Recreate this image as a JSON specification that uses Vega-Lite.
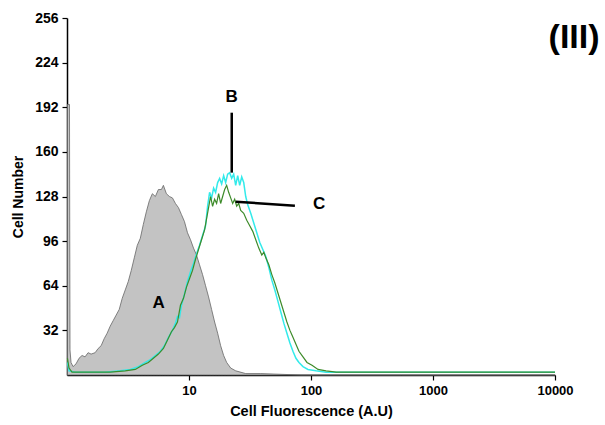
{
  "$schema": "https://vega.github.io/schema/vega-lite/v6.json",
  "width": 488,
  "height": 357,
  "autosize": {"type": "none"},
  "padding": {"left": 67, "top": 18, "right": 50, "bottom": 50},
  "background": "white",
  "config": {
    "view": {"stroke": null},
    "font": "Liberation Sans",
    "axis": {
      "grid": false,
      "domainColor": "#000",
      "tickColor": "#000",
      "labelColor": "#000",
      "titleColor": "#000",
      "labelFont": "Liberation Sans",
      "titleFont": "Liberation Sans",
      "labelFontWeight": "bold",
      "titleFontWeight": "bold",
      "labelFontSize": 13,
      "titleFontSize": 14,
      "domainWidth": 1.5,
      "tickWidth": 1.2,
      "tickSize": 5,
      "labelFlush": false,
      "labelOverlap": false
    }
  },
  "datasets": {
    "A": [
      {"x":1.009,"n":194},{"x":1.048,"n":194},{"x":1.058,"n":18},{"x":1.079,"n":9},{"x":1.121,"n":6},{"x":1.186,"n":8},{"x":1.255,"n":12},{"x":1.329,"n":14},{"x":1.406,"n":13},{"x":1.489,"n":16},{"x":1.576,"n":15},{"x":1.7,"n":16},{"x":1.8,"n":19},{"x":1.905,"n":21},{"x":2.016,"n":26},{"x":2.134,"n":30},{"x":2.259,"n":35},{"x":2.391,"n":39},{"x":2.531,"n":43},{"x":2.679,"n":47},{"x":2.836,"n":55},{"x":3.002,"n":61},{"x":3.177,"n":67},{"x":3.363,"n":75},{"x":3.56,"n":84},{"x":3.768,"n":93},{"x":3.989,"n":98},{"x":4.222,"n":108},{"x":4.469,"n":117},{"x":4.731,"n":125},{"x":5.007,"n":130},{"x":5.3,"n":128},{"x":5.611,"n":133},{"x":5.939,"n":133},{"x":6.168,"n":136},{"x":6.528,"n":130},{"x":6.91,"n":128},{"x":7.315,"n":127},{"x":7.742,"n":123},{"x":8.196,"n":120},{"x":8.675,"n":115},{"x":9.183,"n":110},{"x":9.72,"n":102},{"x":10.29,"n":97},{"x":10.89,"n":91},{"x":11.53,"n":86},{"x":12.2,"n":79},{"x":12.92,"n":72},{"x":13.67,"n":64},{"x":14.47,"n":56},{"x":15.32,"n":47},{"x":16.22,"n":38},{"x":17.17,"n":30},{"x":18.17,"n":21},{"x":19.23,"n":14},{"x":20.36,"n":9},{"x":21.96,"n":5},{"x":24.14,"n":3},{"x":29.17,"n":1},{"x":38.77,"n":1},{"x":82.75,"n":0},{"x":550,"n":0},{"x":10000,"n":0}
    ],
    "B": [
      {"x":1.009,"n":9},{"x":1.039,"n":3},{"x":1.164,"n":2},{"x":1.546,"n":2},{"x":2.055,"n":2},{"x":2.731,"n":3},{"x":3.3,"n":4},{"x":3.841,"n":6},{"x":4.385,"n":9},{"x":4.822,"n":11},{"x":5.3,"n":14},{"x":5.827,"n":17},{"x":6.286,"n":21},{"x":6.782,"n":27},{"x":7.315,"n":32},{"x":7.742,"n":37},{"x":8.042,"n":42},{"x":8.353,"n":41},{"x":8.675,"n":50},{"x":9.183,"n":58},{"x":9.72,"n":67},{"x":10.29,"n":74},{"x":10.89,"n":80},{"x":11.53,"n":87},{"x":12.2,"n":93},{"x":12.92,"n":100},{"x":13.67,"n":107},{"x":14.2,"n":121},{"x":14.75,"n":131},{"x":15.32,"n":127},{"x":15.91,"n":134},{"x":16.52,"n":131},{"x":17.17,"n":138},{"x":17.83,"n":141},{"x":18.52,"n":137},{"x":19.23,"n":143},{"x":19.97,"n":138},{"x":20.74,"n":144},{"x":21.54,"n":145},{"x":22.38,"n":141},{"x":23.24,"n":144},{"x":24.14,"n":136},{"x":25.07,"n":143},{"x":26.04,"n":136},{"x":27.04,"n":142},{"x":28.09,"n":138},{"x":29.17,"n":128},{"x":30.3,"n":122},{"x":32.07,"n":116},{"x":33.95,"n":109},{"x":35.94,"n":102},{"x":38.04,"n":95},{"x":40.27,"n":90},{"x":42.62,"n":85},{"x":45.12,"n":77},{"x":47.75,"n":68},{"x":50.55,"n":61},{"x":53.51,"n":53},{"x":56.64,"n":45},{"x":59.95,"n":37},{"x":63.47,"n":30},{"x":67.18,"n":23},{"x":71.12,"n":17},{"x":75.27,"n":12},{"x":79.68,"n":9},{"x":85.97,"n":6},{"x":94.47,"n":4},{"x":109.9,"n":3},{"x":132.9,"n":2},{"x":213.4,"n":2},{"x":1420,"n":2},{"x":10000,"n":2}
    ],
    "C": [
      {"x":1.009,"n":12},{"x":1.039,"n":5},{"x":1.099,"n":2},{"x":1.546,"n":2},{"x":2.259,"n":2},{"x":3.002,"n":3},{"x":3.628,"n":4},{"x":4.143,"n":7},{"x":4.642,"n":9},{"x":5.104,"n":12},{"x":5.611,"n":15},{"x":6.168,"n":19},{"x":6.653,"n":25},{"x":7.178,"n":31},{"x":7.598,"n":34},{"x":8.042,"n":38},{"x":8.511,"n":50},{"x":9.01,"n":55},{"x":9.537,"n":63},{"x":10.09,"n":69},{"x":10.69,"n":75},{"x":11.31,"n":83},{"x":11.97,"n":90},{"x":12.67,"n":97},{"x":13.42,"n":104},{"x":13.93,"n":112},{"x":14.47,"n":120},{"x":15.03,"n":128},{"x":15.61,"n":121},{"x":16.22,"n":126},{"x":16.84,"n":123},{"x":17.49,"n":130},{"x":18.17,"n":123},{"x":18.87,"n":128},{"x":19.6,"n":133},{"x":20.36,"n":136},{"x":21.14,"n":131},{"x":21.96,"n":127},{"x":22.8,"n":123},{"x":23.68,"n":126},{"x":24.6,"n":121},{"x":25.55,"n":123},{"x":26.54,"n":118},{"x":28.09,"n":116},{"x":29.74,"n":111},{"x":31.47,"n":107},{"x":33.31,"n":103},{"x":35.27,"n":97},{"x":37.33,"n":91},{"x":39.52,"n":86},{"x":41.04,"n":88},{"x":42.62,"n":84},{"x":45.12,"n":79},{"x":47.75,"n":72},{"x":50.55,"n":66},{"x":53.51,"n":59},{"x":56.64,"n":52},{"x":59.95,"n":45},{"x":63.47,"n":38},{"x":67.18,"n":32},{"x":71.12,"n":27},{"x":75.27,"n":22},{"x":79.68,"n":17},{"x":85.97,"n":13},{"x":92.71,"n":9},{"x":101.9,"n":7},{"x":114.2,"n":4},{"x":132.9,"n":3},{"x":160.6,"n":2},{"x":257.9,"n":2},{"x":10000,"n":2}
    ],
    "pointers": [
      {"x":22.4,"y":188.1,"x2":22.4,"y2":145.1},
      {"x":24.1,"y":124.3,"x2":73.8,"y2":121.4}
    ],
    "letters": [
      {"label":"A","x":5.64,"y":51.4},
      {"label":"B","x":22.4,"y":199.1},
      {"label":"C","x":116.4,"y":122.6}
    ],
    "panel": [
      {"label":"(III)","x":14330,"y":241.7}
    ]
  },
  "layer": [
    {
      "data": {"name": "A"},
      "mark": {"type": "area", "color": "#c3c3c3", "stroke": "#666666", "strokeWidth": 0.8, "interpolate": "linear"},
      "encoding": {
        "x": {"field": "x", "type": "quantitative", "scale": {"type": "log", "domain": [1, 10000], "nice": false},
              "axis": {"values": [10, 100, 1000, 10000], "format": "d", "title": "Cell Fluorescence (A.U)", "labelPadding": 4, "titlePadding": 7, "titleFontSize": 14.5}},
        "y": {"field": "n", "type": "quantitative", "scale": {"domain": [0, 256], "nice": false},
              "axis": {"values": [32, 64, 96, 128, 160, 192, 224, 256], "title": "Cell Number", "labelPadding": 4, "labelFontSize": 14, "titlePadding": 9}}
      }
    },
    {
      "data": {"name": "B"},
      "mark": {"type": "line", "color": "#33eaea", "strokeWidth": 1.5},
      "encoding": {
        "x": {"field": "x", "type": "quantitative", "scale": {"type": "log", "domain": [1, 10000], "nice": false}},
        "y": {"field": "n", "type": "quantitative", "scale": {"domain": [0, 256], "nice": false}}
      }
    },
    {
      "data": {"name": "C"},
      "mark": {"type": "line", "color": "#3d8b2a", "strokeWidth": 1.2},
      "encoding": {
        "x": {"field": "x", "type": "quantitative", "scale": {"type": "log", "domain": [1, 10000], "nice": false}},
        "y": {"field": "n", "type": "quantitative", "scale": {"domain": [0, 256], "nice": false}}
      }
    },
    {
      "data": {"name": "pointers"},
      "mark": {"type": "rule", "color": "#000", "strokeWidth": 2.5},
      "encoding": {
        "x": {"field": "x", "type": "quantitative", "scale": {"type": "log", "domain": [1, 10000], "nice": false}},
        "x2": {"field": "x2"},
        "y": {"field": "y", "type": "quantitative", "scale": {"domain": [0, 256], "nice": false}},
        "y2": {"field": "y2"}
      }
    },
    {
      "data": {"name": "letters"},
      "mark": {"type": "text", "font": "Liberation Sans", "fontWeight": "bold", "fontSize": 17, "color": "#000", "baseline": "middle", "align": "center"},
      "encoding": {
        "x": {"field": "x", "type": "quantitative", "scale": {"type": "log", "domain": [1, 10000], "nice": false}},
        "y": {"field": "y", "type": "quantitative", "scale": {"domain": [0, 256], "nice": false}},
        "text": {"field": "label"}
      }
    },
    {
      "data": {"name": "panel"},
      "mark": {"type": "text", "font": "Liberation Sans", "fontWeight": "bold", "fontSize": 34, "color": "#000", "baseline": "middle", "align": "center"},
      "encoding": {
        "x": {"field": "x", "type": "quantitative", "scale": {"type": "log", "domain": [1, 10000], "nice": false}},
        "y": {"field": "y", "type": "quantitative", "scale": {"domain": [0, 256], "nice": false}},
        "text": {"field": "label"}
      }
    }
  ]
}
